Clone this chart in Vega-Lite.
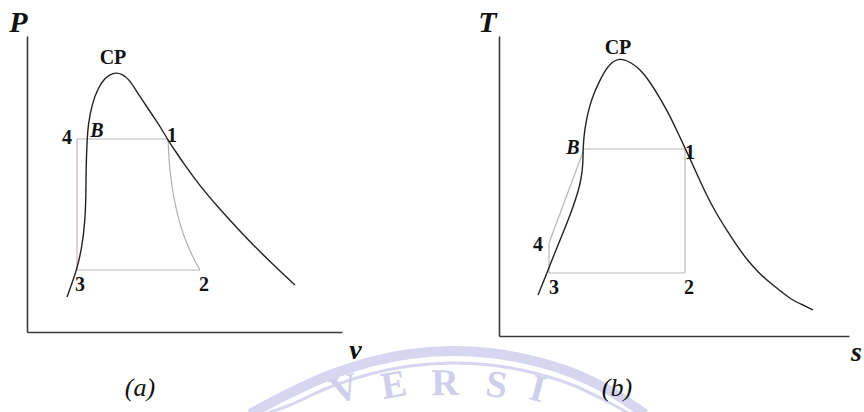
{
  "$schema": "https://vega.github.io/schema/vega-lite/v6.json",
  "background": "white",
  "padding": {"left": 8, "top": 7, "right": 0, "bottom": 0},
  "bounds": "flush",
  "spacing": 157,
  "config": {
    "view": {"stroke": null},
    "font": "Liberation Serif",
    "text": {"font": "Liberation Serif"}
  },
  "datasets": {
    "domeA": [
      {"k": 1, "v": 12.70, "P": 11.82}, {"k": 2, "v": 14.29, "P": 16.55}, {"k": 3, "v": 15.87, "P": 21.28},
      {"k": 4, "v": 17.46, "P": 28.72}, {"k": 5, "v": 18.41, "P": 37.16}, {"k": 6, "v": 18.73, "P": 46.28},
      {"k": 7, "v": 18.73, "P": 55.41}, {"k": 8, "v": 19.05, "P": 63.85}, {"k": 9, "v": 19.37, "P": 69.93},
      {"k": 10, "v": 20.63, "P": 77.03}, {"k": 11, "v": 22.54, "P": 82.43}, {"k": 12, "v": 24.76, "P": 85.81},
      {"k": 13, "v": 26.35, "P": 86.99}, {"k": 14, "v": 28.25, "P": 87.67}, {"k": 15, "v": 30.16, "P": 87.16},
      {"k": 16, "v": 32.38, "P": 85.47}, {"k": 17, "v": 34.92, "P": 81.08}, {"k": 18, "v": 37.46, "P": 77.03},
      {"k": 19, "v": 40.00, "P": 72.97}, {"k": 20, "v": 42.54, "P": 68.92}, {"k": 21, "v": 44.76, "P": 64.86},
      {"k": 22, "v": 47.30, "P": 60.81}, {"k": 23, "v": 49.84, "P": 56.76}, {"k": 24, "v": 54.92, "P": 49.32},
      {"k": 25, "v": 60.63, "P": 42.23}, {"k": 26, "v": 66.98, "P": 34.80}, {"k": 27, "v": 73.97, "P": 27.03},
      {"k": 28, "v": 80.32, "P": 20.61}, {"k": 29, "v": 85.08, "P": 15.88}
    ],
    "cycleA": [
      {"seg": "4-1", "k": 1, "v": 15.87, "P": 65.20}, {"seg": "4-1", "k": 2, "v": 44.76, "P": 65.20},
      {"seg": "1-2", "k": 1, "v": 44.76, "P": 65.20}, {"seg": "1-2", "k": 2, "v": 45.40, "P": 54.73},
      {"seg": "1-2", "k": 3, "v": 46.98, "P": 43.58}, {"seg": "1-2", "k": 4, "v": 49.52, "P": 33.45},
      {"seg": "1-2", "k": 5, "v": 52.70, "P": 25.34}, {"seg": "1-2", "k": 6, "v": 54.92, "P": 20.95},
      {"seg": "2-3", "k": 1, "v": 54.92, "P": 20.95}, {"seg": "2-3", "k": 2, "v": 15.87, "P": 20.95},
      {"seg": "3-4", "k": 1, "v": 15.87, "P": 20.95}, {"seg": "3-4", "k": 2, "v": 15.87, "P": 65.20}
    ],
    "pointsA": [
      {"t": "CP", "v": 27.30, "P": 92.57}, {"t": "4", "v": 12.70, "P": 65.54},
      {"t": "1", "v": 46.03, "P": 66.22}, {"t": "3", "v": 16.83, "P": 15.88},
      {"t": "2", "v": 56.19, "P": 15.88}
    ],
    "sealRing": [
      {"ring": "outer", "k": 1, "v": 70.79, "P": -27.70}, {"ring": "outer", "k": 2, "v": 83.49, "P": -20.61},
      {"ring": "outer", "k": 3, "v": 96.19, "P": -14.53}, {"ring": "outer", "k": 4, "v": 108.89, "P": -10.14},
      {"ring": "outer", "k": 5, "v": 121.59, "P": -7.43}, {"ring": "outer", "k": 6, "v": 134.29, "P": -6.42},
      {"ring": "outer", "k": 7, "v": 146.98, "P": -7.09}, {"ring": "outer", "k": 8, "v": 159.68, "P": -9.46},
      {"ring": "outer", "k": 9, "v": 172.38, "P": -13.51}, {"ring": "outer", "k": 10, "v": 185.08, "P": -19.93},
      {"ring": "outer", "k": 11, "v": 196.19, "P": -27.70},
      {"ring": "inner", "k": 1, "v": 75.56, "P": -27.70}, {"ring": "inner", "k": 2, "v": 83.49, "P": -24.66},
      {"ring": "inner", "k": 3, "v": 96.19, "P": -18.58}, {"ring": "inner", "k": 4, "v": 108.89, "P": -14.19},
      {"ring": "inner", "k": 5, "v": 121.59, "P": -11.49}, {"ring": "inner", "k": 6, "v": 134.29, "P": -10.47},
      {"ring": "inner", "k": 7, "v": 146.98, "P": -11.15}, {"ring": "inner", "k": 8, "v": 159.68, "P": -13.51},
      {"ring": "inner", "k": 9, "v": 172.38, "P": -17.57}, {"ring": "inner", "k": 10, "v": 185.08, "P": -23.99},
      {"ring": "inner", "k": 11, "v": 191.43, "P": -27.70}
    ],
    "sealText": [
      {"t": "V", "v": 101.0, "P": -19.59}, {"t": "E", "v": 116.5, "P": -18.24},
      {"t": "R", "v": 132.7, "P": -17.57}, {"t": "S", "v": 149.0, "P": -18.24},
      {"t": "I", "v": 162.0, "P": -19.59}
    ],
    "domeB": [
      {"k": 1, "s": 11.14, "T": 13.67}, {"k": 2, "s": 12.57, "T": 17.67}, {"k": 3, "s": 14.00, "T": 22.00},
      {"k": 4, "s": 15.71, "T": 27.00}, {"k": 5, "s": 17.43, "T": 32.00}, {"k": 6, "s": 19.43, "T": 37.67},
      {"k": 7, "s": 21.14, "T": 43.00}, {"k": 8, "s": 22.57, "T": 48.00}, {"k": 9, "s": 23.43, "T": 52.00},
      {"k": 10, "s": 24.00, "T": 57.00}, {"k": 11, "s": 24.00, "T": 62.00}, {"k": 12, "s": 24.29, "T": 67.00},
      {"k": 13, "s": 24.86, "T": 71.33}, {"k": 14, "s": 25.71, "T": 76.00}, {"k": 15, "s": 27.14, "T": 81.00},
      {"k": 16, "s": 28.86, "T": 85.33}, {"k": 17, "s": 30.57, "T": 89.00}, {"k": 18, "s": 32.29, "T": 91.33},
      {"k": 19, "s": 34.00, "T": 92.33}, {"k": 20, "s": 35.71, "T": 92.17}, {"k": 21, "s": 37.43, "T": 91.33},
      {"k": 22, "s": 40.29, "T": 89.00}, {"k": 23, "s": 43.14, "T": 84.67}, {"k": 24, "s": 46.00, "T": 79.33},
      {"k": 25, "s": 48.86, "T": 73.33}, {"k": 26, "s": 51.14, "T": 67.67}, {"k": 27, "s": 53.43, "T": 62.00},
      {"k": 28, "s": 56.29, "T": 54.67}, {"k": 29, "s": 59.14, "T": 47.33}, {"k": 30, "s": 62.00, "T": 41.00},
      {"k": 31, "s": 64.86, "T": 35.67}, {"k": 32, "s": 68.00, "T": 30.00}, {"k": 33, "s": 71.14, "T": 25.00},
      {"k": 34, "s": 74.29, "T": 21.00}, {"k": 35, "s": 77.43, "T": 17.67}, {"k": 36, "s": 80.86, "T": 14.67},
      {"k": 37, "s": 83.71, "T": 12.00}, {"k": 38, "s": 86.86, "T": 10.33}, {"k": 39, "s": 89.71, "T": 8.67}
    ],
    "cycleB": [
      {"seg": "B-1", "k": 1, "s": 24.29, "T": 62.33}, {"seg": "B-1", "k": 2, "s": 53.14, "T": 62.33},
      {"seg": "1-2", "k": 1, "s": 53.14, "T": 62.33}, {"seg": "1-2", "k": 2, "s": 53.14, "T": 21.00},
      {"seg": "2-3", "k": 1, "s": 53.14, "T": 21.00}, {"seg": "2-3", "k": 2, "s": 14.29, "T": 21.00},
      {"seg": "3-4", "k": 1, "s": 14.29, "T": 21.00}, {"seg": "3-4", "k": 2, "s": 14.29, "T": 31.00},
      {"seg": "4-B", "k": 1, "s": 14.29, "T": 31.00}, {"seg": "4-B", "k": 2, "s": 24.00, "T": 61.33}
    ],
    "pointsB": [
      {"t": "CP", "s": 34.00, "T": 96.00}, {"t": "1", "s": 54.57, "T": 61.00},
      {"t": "4", "s": 11.14, "T": 30.33}, {"t": "3", "s": 15.71, "T": 16.00},
      {"t": "2", "s": 54.29, "T": 16.00}
    ]
  },
  "hconcat": [
    {
      "width": 315,
      "height": 296,
      "encoding": {
        "x": {
          "field": "v", "type": "quantitative",
          "scale": {"domain": [0, 100], "nice": false, "zero": false},
          "axis": {
            "title": "v", "grid": false, "ticks": false, "labels": false,
            "domainColor": "#3a3a3a", "domainWidth": 1.6,
            "titleAngle": 0, "titleX": 328, "titleY": 18,
            "titleAlign": "center", "titleBaseline": "middle",
            "titleFont": "Liberation Serif", "titleFontSize": 28,
            "titleFontStyle": "italic", "titleFontWeight": "bold", "titleColor": "#111"
          }
        },
        "y": {
          "field": "P", "type": "quantitative",
          "scale": {"domain": [0, 100], "nice": false, "zero": false},
          "axis": {
            "title": "P", "grid": false, "ticks": false, "labels": false,
            "domainColor": "#3a3a3a", "domainWidth": 1.6,
            "titleAngle": 0, "titleX": -9, "titleY": -14,
            "titleAlign": "center", "titleBaseline": "middle",
            "titleFont": "Liberation Serif", "titleFontSize": 30,
            "titleFontStyle": "italic", "titleFontWeight": "bold", "titleColor": "#111"
          }
        }
      },
      "layer": [
        {
          "data": {"name": "sealRing"},
          "mark": {"type": "line", "clip": false, "stroke": "#d6d6f0", "interpolate": "catmull-rom"},
          "encoding": {
            "detail": {"field": "ring"},
            "order": {"field": "k"},
            "strokeWidth": {"field": "ring", "type": "nominal", "scale": {"domain": ["outer", "inner"], "range": [10, 3]}, "legend": null}
          }
        },
        {
          "data": {"name": "sealText"},
          "mark": {"type": "text", "clip": false, "font": "Liberation Serif", "fontSize": 38, "fontWeight": "bold", "color": "#cfcfec", "baseline": "middle", "align": "center"},
          "encoding": {
            "text": {"field": "t"},
            "angle": {"field": "v", "type": "quantitative", "scale": {"domain": [100, 168.6], "range": [-18, 18]}, "legend": null}
          }
        },
        {
          "data": {"name": "cycleA"},
          "mark": {"type": "line", "strokeWidth": 1.2, "interpolate": "catmull-rom"},
          "encoding": {
            "detail": {"field": "seg"},
            "order": {"field": "k"},
            "color": {"field": "seg", "type": "nominal", "scale": {"domain": ["4-1", "1-2", "2-3", "3-4"], "range": ["#b8b8b8", "#b0b0b0", "#b8b8b8", "#dba9b0"]}, "legend": null}
          }
        },
        {
          "data": {"name": "domeA"},
          "mark": {"type": "line", "stroke": "#222", "strokeWidth": 1.4, "interpolate": "basis"},
          "encoding": {"order": {"field": "k"}}
        },
        {
          "data": {"name": "pointsA"},
          "mark": {"type": "text", "font": "Liberation Serif", "fontSize": 20, "fontWeight": "bold", "color": "#111", "baseline": "middle", "align": "center"},
          "encoding": {"text": {"field": "t"}}
        },
        {
          "data": {"values": [{"t": "B", "v": 22.22, "P": 67.91}]},
          "mark": {"type": "text", "font": "Liberation Serif", "fontSize": 20, "fontWeight": "bold", "fontStyle": "italic", "color": "#111", "baseline": "middle", "align": "center"},
          "encoding": {"text": {"field": "t"}}
        },
        {
          "data": {"values": [{"t": "(a)", "v": 35.87, "P": -18.92}]},
          "mark": {"type": "text", "clip": false, "font": "Liberation Serif", "fontSize": 26, "fontStyle": "italic", "color": "#111", "baseline": "middle", "align": "center"},
          "encoding": {"text": {"field": "t"}}
        }
      ]
    },
    {
      "width": 350,
      "height": 300,
      "encoding": {
        "x": {
          "field": "s", "type": "quantitative",
          "scale": {"domain": [0, 100], "nice": false, "zero": false},
          "axis": {
            "title": "s", "grid": false, "ticks": false, "labels": false,
            "domainColor": "#3a3a3a", "domainWidth": 1.6,
            "titleAngle": 0, "titleX": 357, "titleY": 16,
            "titleAlign": "center", "titleBaseline": "middle",
            "titleFont": "Liberation Serif", "titleFontSize": 28,
            "titleFontStyle": "italic", "titleFontWeight": "bold", "titleColor": "#111"
          }
        },
        "y": {
          "field": "T", "type": "quantitative",
          "scale": {"domain": [0, 100], "nice": false, "zero": false},
          "axis": {
            "title": "T", "grid": false, "ticks": false, "labels": false,
            "domainColor": "#3a3a3a", "domainWidth": 1.6,
            "titleAngle": 0, "titleX": -12, "titleY": -14,
            "titleAlign": "center", "titleBaseline": "middle",
            "titleFont": "Liberation Serif", "titleFontSize": 30,
            "titleFontStyle": "italic", "titleFontWeight": "bold", "titleColor": "#111"
          }
        }
      },
      "layer": [
        {
          "data": {"name": "cycleB"},
          "mark": {"type": "line", "strokeWidth": 1.2, "color": "#b8b8b8"},
          "encoding": {"detail": {"field": "seg"}, "order": {"field": "k"}}
        },
        {
          "data": {"name": "domeB"},
          "mark": {"type": "line", "stroke": "#222", "strokeWidth": 1.4, "interpolate": "basis"},
          "encoding": {"order": {"field": "k"}}
        },
        {
          "data": {"name": "pointsB"},
          "mark": {"type": "text", "font": "Liberation Serif", "fontSize": 20, "fontWeight": "bold", "color": "#111", "baseline": "middle", "align": "center"},
          "encoding": {"text": {"field": "t"}}
        },
        {
          "data": {"values": [{"t": "B", "s": 21.14, "T": 62.67}]},
          "mark": {"type": "text", "font": "Liberation Serif", "fontSize": 20, "fontWeight": "bold", "fontStyle": "italic", "color": "#111", "baseline": "middle", "align": "center"},
          "encoding": {"text": {"field": "t"}}
        },
        {
          "data": {"values": [{"t": "(b)", "s": 33.71, "T": -17.33}]},
          "mark": {"type": "text", "clip": false, "font": "Liberation Serif", "fontSize": 26, "fontStyle": "italic", "color": "#111", "baseline": "middle", "align": "center"},
          "encoding": {"text": {"field": "t"}}
        }
      ]
    }
  ]
}
